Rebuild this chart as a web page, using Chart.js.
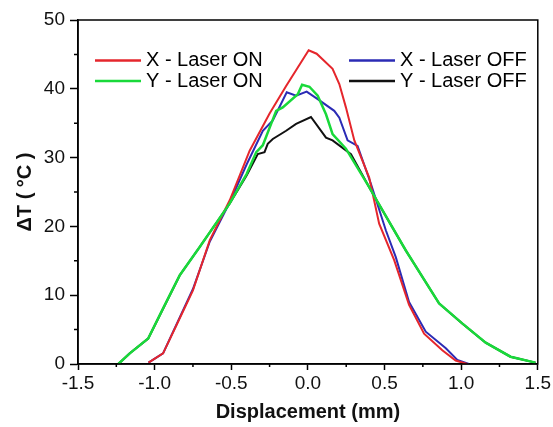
<!DOCTYPE html>
<html>
<head>
<meta charset="utf-8">
<title>Temperature profile</title>
<script src="https://cdn.jsdelivr.net/npm/chart.js@4.4.1/dist/chart.umd.min.js"></script>
<style>
    html, body { margin: 0; padding: 0; background: #fff; }
    #wrap { width: 553px; height: 427px; }
</style>
</head>
<body>
<div id="wrap"><canvas id="profileChart" width="553" height="427"></canvas></div>
<script>
// data: displacement (mm) vs delta T (°C)
var xOnPos = [-1.04, -0.945, -0.85, -0.75, -0.64, -0.51, -0.38, -0.25, -0.142, -0.066, 0.005, 0.057, 0.161, 0.205, 0.248, 0.303, 0.40, 0.465, 0.563, 0.66, 0.758, 0.877, 0.964, 1.04];
var xOnTemp = [0.2, 1.55, 6.0, 10.7, 18.0, 23.8, 31.0, 36.4, 40.4, 43.1, 45.6, 45.1, 42.9, 40.7, 37.3, 32.5, 27.1, 20.4, 15.1, 8.6, 4.4, 2.0, 0.5, 0.0];

var xOffPos = [-1.04, -0.945, -0.75, -0.64, -0.51, -0.40, -0.294, -0.229, -0.138, -0.077, -0.008, 0.064, 0.172, 0.205, 0.259, 0.324, 0.411, 0.509, 0.574, 0.66, 0.769, 0.90, 0.975, 1.05];
var xOffTemp = [0.2, 1.55, 10.9, 17.8, 23.5, 29.0, 33.9, 35.4, 39.5, 39.0, 39.6, 38.5, 36.8, 35.8, 32.5, 31.7, 26.2, 19.4, 15.5, 9.0, 4.7, 2.3, 0.6, 0.0];

var yOnPos = [-1.237, -1.162, -1.042, -0.94, -0.836, -0.706, -0.511, -0.40, -0.337, -0.294, -0.207, -0.164, -0.066, -0.038, 0.01, 0.064, 0.118, 0.161, 0.248, 0.40, 0.454, 0.639, 0.856, 1.007, 1.16, 1.322, 1.485];
var yOnTemp = [0, 1.55, 3.7, 8.3, 12.9, 17.0, 23.3, 27.6, 30.8, 31.8, 36.8, 37.3, 39.2, 40.6, 40.3, 39.0, 36.3, 33.4, 31.3, 25.7, 23.6, 16.5, 8.8, 5.9, 3.1, 1.06, 0.2];

var yOffPos = [-1.237, -1.162, -1.042, -0.836, -0.706, -0.511, -0.40, -0.327, -0.283, -0.262, -0.229, -0.142, -0.077, 0.02, 0.118, 0.161, 0.281, 0.40, 0.454, 0.639, 0.856, 1.007, 1.16, 1.322, 1.485];
var yOffTemp = [0, 1.55, 3.7, 12.9, 17.0, 23.3, 27.4, 30.5, 30.8, 32.0, 32.7, 33.9, 34.9, 35.9, 32.9, 32.5, 30.5, 25.7, 23.6, 16.5, 8.8, 5.9, 3.1, 1.06, 0.2];

var seriesNames = ['X - Laser ON', 'X - Laser OFF', 'Y - Laser ON', 'Y - Laser OFF'];
var xMinorTicks = [-1.25, -0.75, -0.25, 0.25, 0.75, 1.25];
var yMinorTicks = [5, 15, 25, 35, 45];

function toPoints(xs, ys) {
    return xs.map(function (x, i) { return { x: x, y: ys[i] }; });
}

var fontFamily = '"Liberation Sans", Arial, Helvetica, sans-serif';

// minor ticks, frame and the two-column legend inside the plot
var decorPlugin = {
    id: 'decor',
    afterDraw: function (chart) {
        var ctx = chart.ctx;
        var area = chart.chartArea;
        var xs = chart.scales.x, ys = chart.scales.y;
        ctx.save();
        ctx.strokeStyle = '#000';
        ctx.lineWidth = 1.5;
        ctx.strokeRect(area.left, area.top, area.right - area.left, area.bottom - area.top);

        ctx.beginPath();
        xMinorTicks.forEach(function (v) {
            var px = xs.getPixelForValue(v);
            ctx.moveTo(px, area.bottom);
            ctx.lineTo(px, area.bottom + 3);
        });
        yMinorTicks.forEach(function (v) {
            var py = ys.getPixelForValue(v);
            ctx.moveTo(area.left, py);
            ctx.lineTo(area.left - 4, py);
        });
        ctx.stroke();

        ctx.font = '20px ' + fontFamily;
        ctx.textBaseline = 'middle';
        ctx.fillStyle = '#000';
        chart.data.datasets.forEach(function (ds, i) {
            var col = i % 2, row = Math.floor(i / 2);
            var x0 = area.left + (col === 0 ? 17 : 271);
            var y0 = area.top + (row === 0 ? 40.5 : 61);
            ctx.strokeStyle = ds.borderColor;
            ctx.lineWidth = 2.5;
            ctx.beginPath();
            ctx.moveTo(x0, y0);
            ctx.lineTo(x0 + 46, y0);
            ctx.stroke();
            ctx.fillText(ds.label, x0 + 51, y0);
        });
        ctx.restore();
    }
};

var ctx = document.getElementById('profileChart').getContext('2d');
new Chart(ctx, {
    type: 'line',
    data: {
        datasets: [
            { label: seriesNames[0], data: toPoints(xOnPos, xOnTemp), borderColor: '#e5262c', order: 2 },
            { label: seriesNames[1], data: toPoints(xOffPos, xOffTemp), borderColor: '#2b2bb5', order: 3 },
            { label: seriesNames[2], data: toPoints(yOnPos, yOnTemp), borderColor: '#19d93a', borderWidth: 2.5, order: 1 },
            { label: seriesNames[3], data: toPoints(yOffPos, yOffTemp), borderColor: '#111111', order: 4 }
        ]
    },
    options: {
        responsive: false,
        animation: false,
        devicePixelRatio: 1,
        layout: { padding: { top: 20, right: 14, left: 0, bottom: 0 } },
        elements: {
            point: { radius: 0 },
            line: { borderWidth: 2, tension: 0, fill: false }
        },
        plugins: {
            legend: { display: false },
            tooltip: { enabled: false }
        },
        scales: {
            x: {
                type: 'linear',
                min: -1.5,
                max: 1.5,
                afterFit: function (scale) { scale.height = 63; },
                grid: { drawOnChartArea: false, tickLength: 6, color: '#000', tickWidth: 1.5 },
                border: { color: '#000', width: 1.5 },
                ticks: {
                    stepSize: 0.5,
                    padding: 2,
                    color: '#111',
                    font: { family: fontFamily, size: 19 },
                    callback: function (v) { return v.toFixed(1); }
                },
                title: {
                    display: true,
                    text: 'Displacement (mm)',
                    color: '#111',
                    font: { family: fontFamily, size: 20, weight: 'bold' },
                    padding: { top: 0, bottom: 3 }
                }
            },
            y: {
                min: 0,
                max: 50,
                afterFit: function (scale) { scale.width = 78; },
                grid: { drawOnChartArea: false, tickLength: 8, color: '#000', tickWidth: 1.5 },
                border: { color: '#000', width: 1.5 },
                ticks: {
                    stepSize: 10,
                    padding: 5,
                    color: '#111',
                    font: { family: fontFamily, size: 19 }
                },
                title: {
                    display: true,
                    text: 'ΔT ( °C )',
                    color: '#111',
                    font: { family: fontFamily, size: 20, weight: 'bold' },
                    padding: { top: 13, bottom: 0 }
                }
            }
        }
    },
    plugins: [decorPlugin]
});
</script>
</body>
</html>
